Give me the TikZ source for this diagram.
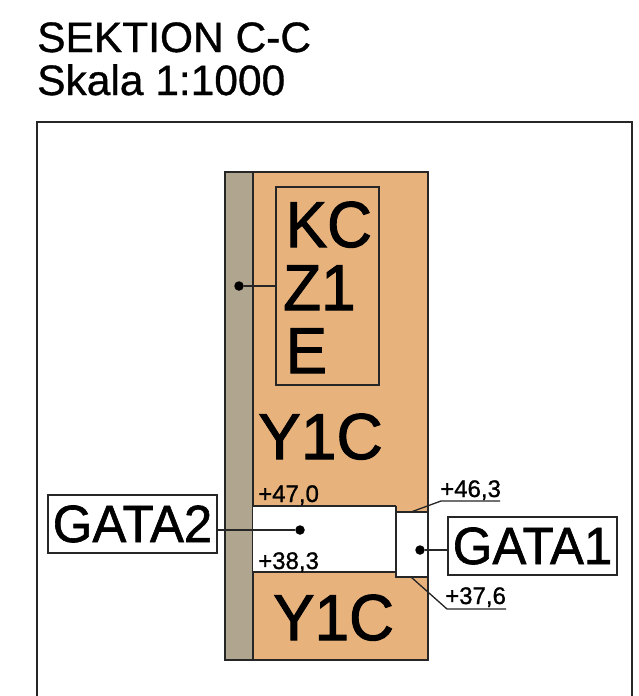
\documentclass[tikz,border=0pt]{standalone}
\usepackage{fontspec}
\setmainfont{Liberation Sans}
\tikzset{
  x=1pt,y=-1pt,
  outl/.style={draw=black!85,line width=1.4pt},
  thinl/.style={draw=black!85,line width=1.3pt},
  bigtxt/.style={font=\fontsize{65}{65}\selectfont\addfontfeature{FakeBold=1.6,FakeStretch=0.955},inner sep=0pt,anchor=base west},
  widetxt/.style={font=\fontsize{65}{65}\selectfont\addfontfeature{FakeBold=1.6,FakeStretch=0.985},inner sep=0pt,anchor=base west},
  gatatxt/.style={font=\fontsize{52.5}{53}\selectfont\addfontfeature{FakeBold=1.2,FakeStretch=0.97},draw=black!85,line width=1.2pt,fill=white,inner sep=0pt,minimum height=58pt,anchor=center},
  lev/.style={font=\fontsize{24}{24}\selectfont\addfontfeature{FakeBold=1},inner sep=0pt,anchor=base west},
  dotn/.style={circle,fill=black,inner sep=0pt,minimum size=9.5pt},
  titl/.style={font=\fontsize{42.5}{43}\selectfont\addfontfeature{FakeBold=0.8},inner sep=0pt,anchor=base west}
}
\definecolor{soil}{RGB}{232,178,124}
\definecolor{rock}{RGB}{176,166,143}
\begin{document}
\begin{tikzpicture}
\useasboundingbox (0,0) rectangle (638,696);
\fill[white] (0,0) rectangle (638,696);
\node[titl] (t1) at (37,52) {SEKTION C-C};
\node[titl] (t2) at (37,95) {Skala 1:1000};
\draw[outl] (37,696) -- (37,122) -- (632,122) -- (632,696);
% column
\fill[soil] (253,172) rectangle (428,660);
\fill[rock] (225,172) rectangle (253,660);
\draw[outl] (225,172) rectangle (428,660);
\draw[outl] (253,172) -- (253,660);
% openings
\fill[white] (253,506) rectangle (396,572);
\draw[outl] (253,506) -- (396,506);
\draw[outl] (253,572) -- (396,572);
\fill[white] (396,512) rectangle (428,577);
\draw[outl] (396,506) -- (396,577) -- (428,577) -- (428,512) -- (396,512);
% KC Z1 E
\node[thinl,draw,minimum width=103pt,minimum height=198pt,inner sep=0pt] (kz) at (327.5,286) {};
\node[bigtxt] (k1) at (285.5,247) {KC};
\node[bigtxt] (k2) at (283,310) {Z1};
\node[bigtxt] (k3) at (285.5,373) {E};
\node[dotn] (d1) at (239,286) {};
\draw[thinl] (d1) -- (kz.west);
\node[widetxt] (y1) at (258,459) {Y1C};
\node[bigtxt] (y2) at (273,640) {Y1C};
% GATA labels
\node[gatatxt,minimum width=169pt] (g2) at (132.5,524) {GATA2};
\node[gatatxt,minimum width=169pt] (g1) at (532.5,546) {GATA1};
\node[dotn] (d2) at (300,530) {};
\node[dotn] (d3) at (420,550) {};
\draw[thinl] (g2.east |- d2) -- (d2);
\draw[thinl] (d3) -- (g1.west |- d3);
% levels
\node[lev] (l1) at (258,502) {+47,0};
\node[lev] (l2) at (258,569) {+38,3};
\node[lev] (l3) at (440,497) {+46,3};
\node[lev] (l4) at (445,604) {+37,6};
\coordinate (a3) at (411,512);
\coordinate (b3) at (441,501);
\coordinate (c3) at (500,501);
\coordinate (a4) at (411,577);
\coordinate (b4) at (447,609);
\coordinate (c4) at (506,609);
\draw[thinl] (a3) -- (b3) -- (c3);
\draw[thinl] (a4) -- (b4) -- (c4);
\end{tikzpicture}
\end{document}
